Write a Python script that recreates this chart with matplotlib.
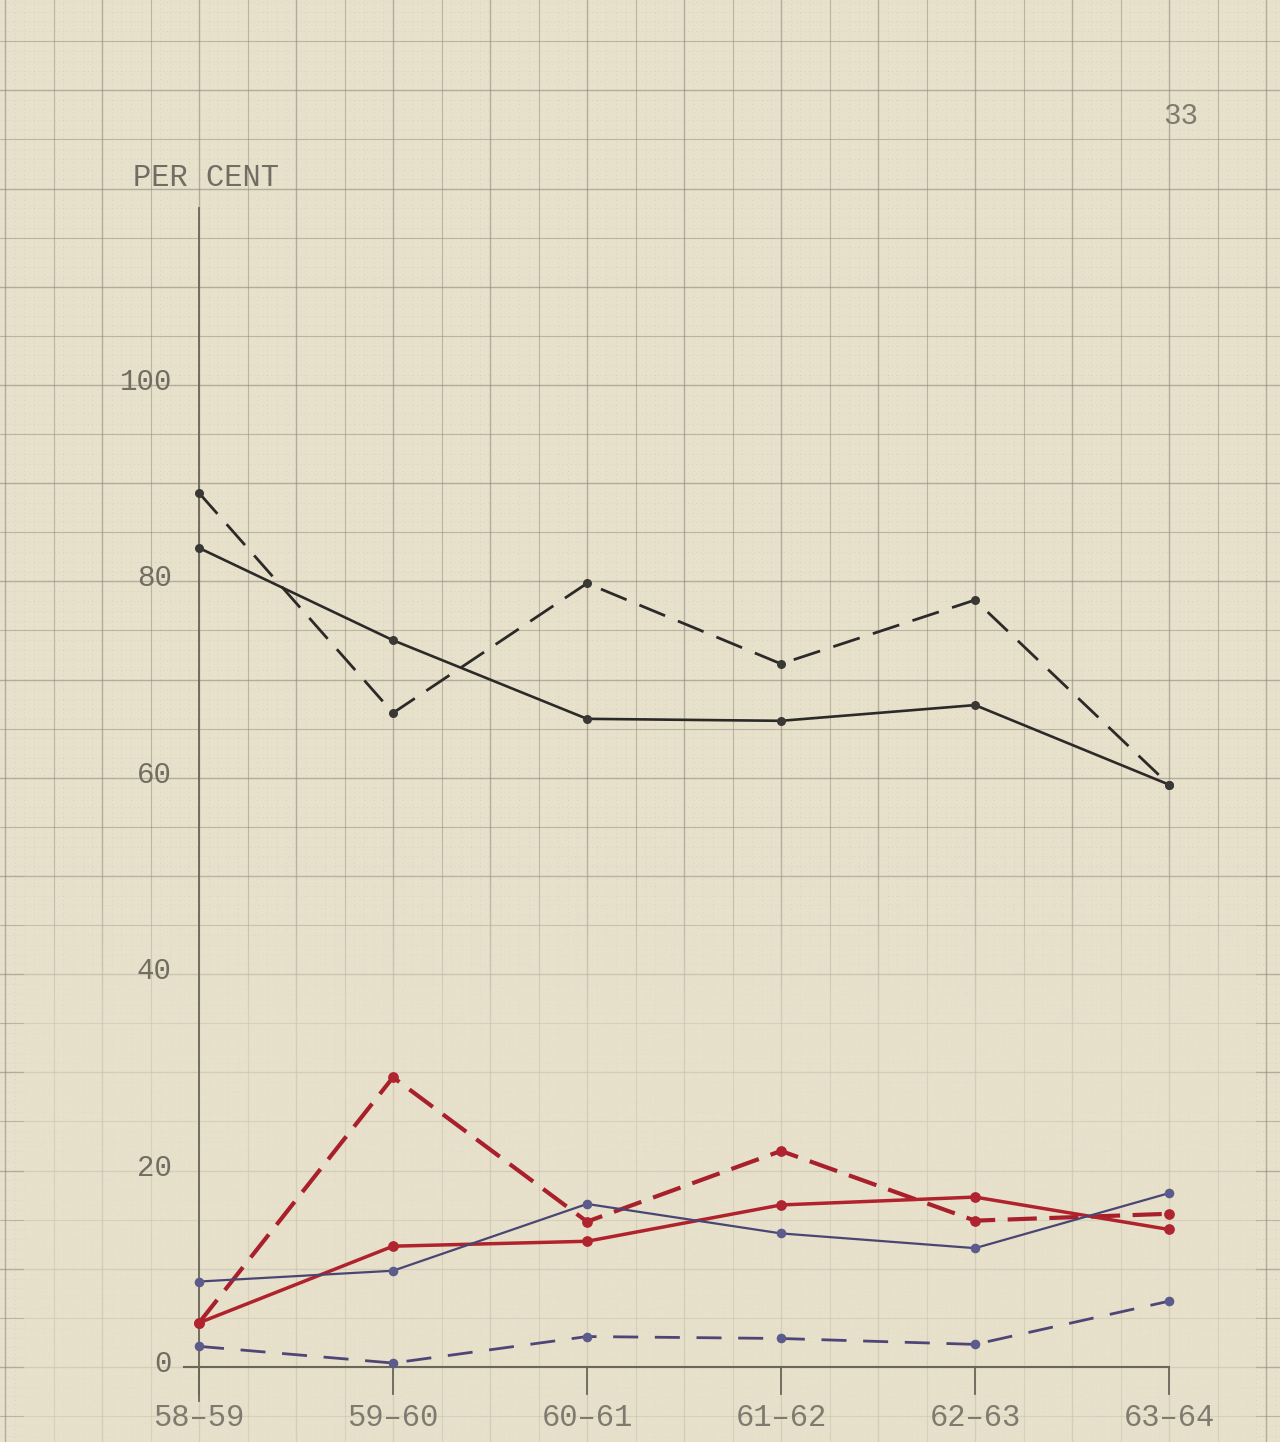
import matplotlib.pyplot as plt
import numpy as np
from matplotlib.colors import to_rgb

years = ['58\u201359', '59\u201360', '60\u201361', '61\u201362', '62\u201363', '63\u201364']
black_dashed = [89.0, 66.6, 79.8, 71.6, 78.1, 59.3]
black_solid = [83.4, 74.0, 66.0, 65.8, 67.4, 59.3]
red_dashed = [4.5, 29.5, 14.8, 22.0, 14.9, 15.6]
red_solid = [4.5, 12.3, 12.8, 16.5, 17.3, 14.0]
blue_solid = [8.7, 9.8, 16.6, 13.6, 12.1, 17.7]
blue_dashed = [2.1, 0.4, 3.1, 2.9, 2.3, 6.7]
ytick_vals = [0, 20, 40, 60, 80, 100]

paper = '#e7e0cb'
gridc = '#8f8a78'
mono = 'Liberation Mono'

fig = plt.figure(figsize=(12.8, 14.42), dpi=100)
fig.patch.set_facecolor(paper)
ax = fig.add_axes([0, 0, 1, 1])
ax.set_facecolor(paper)
ax.axis('off')

# graph paper
for v in np.arange(-1.0, 5.6, 0.05):
    k = round(v / 0.05)
    if k % 10 == 0:
        ax.axvline(v, color=gridc, lw=1.0, alpha=0.6, zorder=1)
    elif k % 5 == 0:
        ax.axvline(v, color=gridc, lw=0.8, alpha=0.5, zorder=1)
    else:
        ax.axvline(v, color=gridc, lw=0.6, alpha=0.22, ls=(0, (1, 4)), zorder=1)
for v in np.arange(-7, 140, 1):
    if v % 10 == 0:
        ax.axhline(v, color=gridc, lw=1.0, alpha=0.6, zorder=1)
    elif v % 5 == 0:
        ax.axhline(v, color=gridc, lw=0.8, alpha=0.5, zorder=1)
    else:
        ax.axhline(v, color=gridc, lw=0.6, alpha=0.22, ls=(0, (1, 4)), zorder=1)

# faded lower part of the sheet (gradient)
rgb = to_rgb(paper)
grad = np.zeros((200, 2, 4))
grad[..., :3] = rgb
a = np.clip((55 - np.linspace(-7.64, 60, 200)) / 20, 0, 1) * 0.65
grad[..., 3] = a[::-1][:, None]
ax.imshow(grad, extent=(-0.9, 5.45, -7.64, 60), aspect='auto', zorder=2,
          interpolation='bilinear')
ax.set_xlim(-1.026, 5.572)
ax.set_ylim(-7.64, 139.2)

# axes
ax.plot([0, 0], [-3.5, 118], color='#6a6658', lw=1.3, zorder=3)
ax.plot([-0.08, 5.0], [0, 0], color='#6a6658', lw=1.5, zorder=3)
for i in range(len(years)):
    ax.plot([i, i], [-2.8, 0], color='#6a6658', lw=1.3, zorder=3)
    ax.text(i, -5.2, years[i], ha='center', va='center', fontsize=22,
            family=mono, color='#7e7a70', zorder=4)
for v in ytick_vals:
    ax.text(-0.14, v + 0.3, str(v), ha='right', va='center', fontsize=21,
            family=mono, color='#716d63', zorder=4)
ax.text(-0.34, 121.1, 'PER CENT', ha='left', va='center', fontsize=22,
        family=mono, color='#716d63', zorder=4)
ax.text(4.97, 127.4, '33', ha='left', va='center', fontsize=21,
        family=mono, color='#7e7a70', zorder=4)

xs = np.arange(len(years))
ax.plot(xs, black_dashed, color='#2c2a28', lw=2.0, ls=(0, (10, 5)), zorder=5)
ax.plot(xs, black_solid, color='#2c2a28', lw=1.9, zorder=5)
ax.scatter(xs, black_dashed, s=30, color='#3a3834', zorder=6)
ax.scatter(xs, black_solid, s=30, color='#3a3834', zorder=6)

ax.plot(xs, red_dashed, color='#a8202c', lw=3.0, ls=(0, (7, 3)), zorder=5)
ax.plot(xs, red_solid, color='#b0222c', lw=2.5, zorder=5)
ax.scatter(xs, red_dashed, s=45, color='#b02430', zorder=6)
ax.scatter(xs, red_solid, s=45, color='#b02430', zorder=6)

ax.plot(xs, blue_solid, color='#4a4674', lw=1.6, zorder=5)
ax.plot(xs, blue_dashed, color='#4e4676', lw=2.0, ls=(0, (9, 6)), zorder=5)
ax.scatter(xs, blue_solid, s=35, color='#5c5c8c', zorder=6)
ax.scatter(xs, blue_dashed, s=35, color='#5c5c8c', zorder=6)

fig.savefig('out.png', dpi=100, facecolor=paper)
